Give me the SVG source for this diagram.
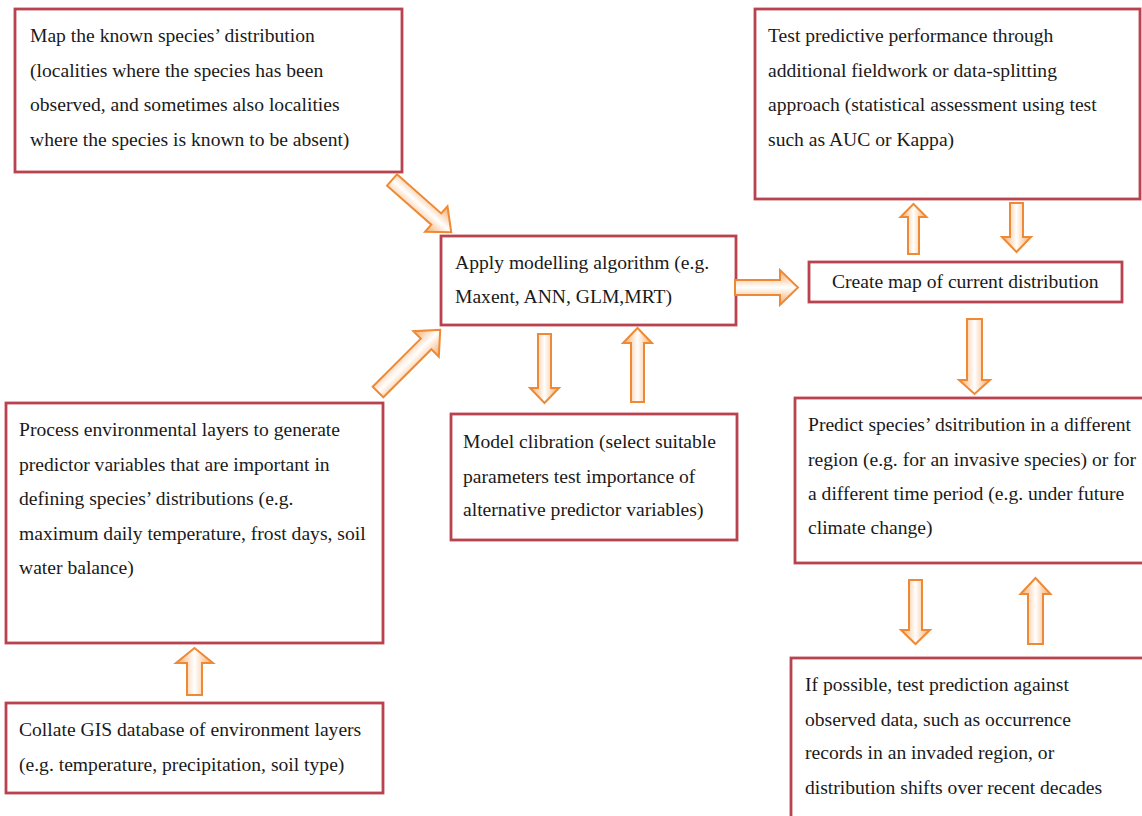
<svg xmlns="http://www.w3.org/2000/svg" width="1142" height="816" viewBox="0 0 1142 816">
  <defs>
    <linearGradient id="arrowFill" x1="0" y1="0" x2="0" y2="1">
      <stop offset="0" stop-color="#f4a868"/>
      <stop offset="0.3" stop-color="#fcdcc0"/>
      <stop offset="0.5" stop-color="#ffffff"/>
      <stop offset="0.7" stop-color="#fcdcc0"/>
      <stop offset="1" stop-color="#f4a868"/>
    </linearGradient>
  </defs>
  <style>
    .box { fill: #ffffff; stroke: #b8434f; stroke-width: 2.8; }
    .txt { font-family: "Liberation Serif", "Times New Roman", serif; font-size: 19.6px; fill: #1a1a1a; }
    .arrow { fill: url(#arrowFill); stroke: #ee8a35; stroke-width: 2; stroke-linejoin: miter; }
  </style>
  <rect width="1142" height="816" fill="#ffffff"/>

  <g id="node-map-known">
    <rect class="box" x="15" y="9" width="387" height="163"/>
    <text class="txt" x="30" y="42">Map the known species’ distribution</text>
    <text class="txt" x="30" y="77">(localities where the species has been</text>
    <text class="txt" x="30" y="111">observed, and sometimes also localities</text>
    <text class="txt" x="30" y="146">where the species is known to be absent)</text>
  </g>

  <g id="node-apply-algorithm">
    <rect class="box" x="441" y="236" width="295" height="89"/>
    <text class="txt" x="455" y="269">Apply modelling algorithm (e.g.</text>
    <text class="txt" x="455" y="303">Maxent, ANN, GLM,MRT)</text>
  </g>

  <g id="node-test-performance">
    <rect class="box" x="755" y="9" width="385" height="190"/>
    <text class="txt" x="768" y="42">Test predictive performance through</text>
    <text class="txt" x="768" y="77">additional fieldwork or data-splitting</text>
    <text class="txt" x="768" y="111">approach (statistical assessment using test</text>
    <text class="txt" x="768" y="146">such as AUC or Kappa)</text>
  </g>

  <g id="node-current-map">
    <rect class="box" x="809" y="262" width="313" height="40"/>
    <text class="txt" x="832" y="288">Create map of current distribution</text>
  </g>

  <g id="node-process-layers">
    <rect class="box" x="6" y="403" width="377" height="240"/>
    <text class="txt" x="19" y="436">Process environmental layers to generate</text>
    <text class="txt" x="19" y="471">predictor variables that are important in</text>
    <text class="txt" x="19" y="505">defining species’ distributions (e.g.</text>
    <text class="txt" x="19" y="540">maximum daily temperature, frost days, soil</text>
    <text class="txt" x="19" y="574">water balance)</text>
  </g>

  <g id="node-collate-gis">
    <rect class="box" x="6" y="703" width="377" height="90"/>
    <text class="txt" x="19" y="736">Collate GIS database of environment layers</text>
    <text class="txt" x="19" y="771">(e.g. temperature, precipitation, soil type)</text>
  </g>

  <g id="node-calibration">
    <rect class="box" x="451" y="414" width="286" height="126"/>
    <text class="txt" x="463" y="448">Model clibration (select suitable</text>
    <text class="txt" x="463" y="483">parameters test importance of</text>
    <text class="txt" x="463" y="516">alternative predictor variables)</text>
  </g>

  <g id="node-predict-elsewhere">
    <rect class="box" x="795" y="398" width="350" height="165"/>
    <text class="txt" x="808" y="431">Predict species’ dsitribution in a different</text>
    <text class="txt" x="808" y="466">region (e.g. for an invasive species) or for</text>
    <text class="txt" x="808" y="500">a different time period (e.g. under future</text>
    <text class="txt" x="808" y="534">climate change)</text>
  </g>

  <g id="node-test-prediction">
    <rect class="box" x="791" y="658" width="354" height="170"/>
    <text class="txt" x="805" y="691">If possible, test prediction against</text>
    <text class="txt" x="805" y="726">observed data, such as occurrence</text>
    <text class="txt" x="805" y="759">records in an invaded region, or</text>
    <text class="txt" x="805" y="794">distribution shifts over recent decades</text>
  </g>

  <!-- block arrows, each drawn along +x from its tail, then placed and rotated -->
  <g id="connectors">
    <polygon class="arrow" transform="translate(392,180) rotate(41.4)" points="0,-7.5 59,-7.5 59,-17 79,0 59,17 59,7.5 0,7.5"/>
    <polygon class="arrow" transform="translate(378,392) rotate(-45)" points="0,-7.5 68,-7.5 68,-18 88,0 68,18 68,7.5 0,7.5"/>
    <polygon class="arrow" transform="translate(735,287.5)" points="0,-7.5 45,-7.5 45,-17.5 63,0 45,17.5 45,7.5 0,7.5"/>
    <polygon class="arrow" transform="translate(544.5,334) rotate(90)" points="0,-6.5 54,-6.5 54,-14.5 69,0 54,14.5 54,6.5 0,6.5"/>
    <polygon class="arrow" transform="translate(637.5,402) rotate(-90)" points="0,-6.5 59,-6.5 59,-14.5 74,0 59,14.5 59,6.5 0,6.5"/>
    <polygon class="arrow" transform="translate(913.5,254) rotate(-90)" points="0,-5.5 37,-5.5 37,-13 50,0 37,13 37,5.5 0,5.5"/>
    <polygon class="arrow" transform="translate(1016.5,203) rotate(90)" points="0,-6.5 34,-6.5 34,-14.5 49,0 34,14.5 34,6.5 0,6.5"/>
    <polygon class="arrow" transform="translate(974.5,319) rotate(90)" points="0,-7.5 61,-7.5 61,-15.5 75,0 61,15.5 61,7.5 0,7.5"/>
    <polygon class="arrow" transform="translate(915.5,580) rotate(90)" points="0,-6.5 50,-6.5 50,-14.5 64,0 50,14.5 50,6.5 0,6.5"/>
    <polygon class="arrow" transform="translate(1035.5,644) rotate(-90)" points="0,-7.5 50,-7.5 50,-15 66,0 50,15 50,7.5 0,7.5"/>
    <polygon class="arrow" transform="translate(194.5,695) rotate(-90)" points="0,-7.5 32,-7.5 32,-18.5 47,0 32,18.5 32,7.5 0,7.5"/>
  </g>
</svg>
